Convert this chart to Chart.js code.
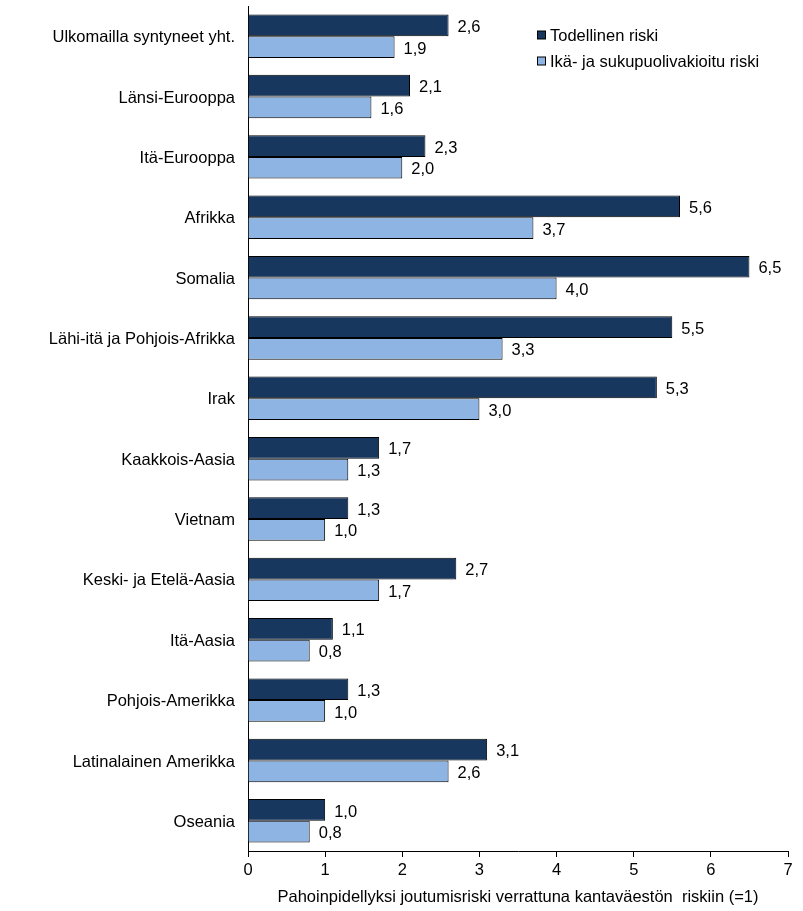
<!DOCTYPE html>
<html><head><meta charset="utf-8">
<script src="https://cdn.jsdelivr.net/npm/chart.js@4.4.1/dist/chart.umd.min.js"></script>
<style>html,body{margin:0;padding:0;background:#fff}#wrap{width:803px;height:911px}</style>
</head><body><div id="wrap"><canvas id="c" width="803" height="911"></canvas></div>
<script>
const categories = ["Ulkomailla syntyneet yht.","Länsi-Eurooppa","Itä-Eurooppa","Afrikka","Somalia","Lähi-itä ja Pohjois-Afrikka","Irak","Kaakkois-Aasia","Vietnam","Keski- ja Etelä-Aasia","Itä-Aasia","Pohjois-Amerikka","Latinalainen Amerikka","Oseania"];
const actualRisk = [2.6,2.1,2.3,5.6,6.5,5.5,5.3,1.7,1.3,2.7,1.1,1.3,3.1,1.0];
const adjustedRisk = [1.9,1.6,2.0,3.7,4.0,3.3,3.0,1.3,1.0,1.7,0.8,1.0,2.6,0.8];
const seriesNames = ["Todellinen riski","Ikä- ja sukupuolivakioitu riski"];
const xTicks = [0,1,2,3,4,5,6,7];
const axisTitle = "Pahoinpidellyksi joutumisriski verrattuna kantaväestön  riskiin (=1)";
const FONT = "'Liberation Sans', Arial, sans-serif";
const FS = 16.5;

const labelsPlugin = {
  id:'vals',
  afterDatasetsDraw(chart){
    const ctx = chart.ctx;
    ctx.save();
    ctx.font = FS + "px " + FONT;
    ctx.fillStyle = "#000";
    ctx.textBaseline = "middle";
    ctx.textAlign = "left";
    chart.data.datasets.forEach((ds,i)=>{
      chart.getDatasetMeta(i).data.forEach((bar,j)=>{
        ctx.fillText(ds.data[j].toFixed(1).replace('.',','), bar.x + 9, bar.y + 2);
      });
    });
    ctx.restore();
  }
};
const legendPlugin = {
  id:'leg',
  afterDraw(chart){
    const ctx = chart.ctx;
    ctx.save();
    ctx.font = FS + "px " + FONT;
    ctx.textBaseline = "middle";
    const ys = [35, 61];
    chart.data.datasets.forEach((ds,i)=>{
      ctx.fillStyle = ds.backgroundColor;
      ctx.fillRect(537.5, ys[i]-4, 8, 8);
      ctx.strokeStyle = "#000"; ctx.lineWidth = 1;
      ctx.strokeRect(537.5, ys[i]-4, 8, 8);
      ctx.fillStyle = "#000";
      ctx.fillText(ds.label, 550, ys[i] + 1);
    });
    ctx.restore();
  }
};

new Chart(document.getElementById('c'), {
  type:'bar',
  data:{
    labels: categories,
    datasets:[
      {label:seriesNames[0], data:actualRisk, backgroundColor:"#17375E", borderColor:"#000", borderWidth:1, borderSkipped:'start', categoryPercentage:0.72, barPercentage:1.0},
      {label:seriesNames[1], data:adjustedRisk, backgroundColor:"#8DB4E2", borderColor:"#000", borderWidth:1, borderSkipped:'start', categoryPercentage:0.72, barPercentage:1.0}
    ]
  },
  options:{
    indexAxis:'y',
    responsive:false,
    animation:false,
    layout:{padding:{top:6,right:15,left:0,bottom:0}},
    plugins:{legend:{display:false}, tooltip:{enabled:false}},
    scales:{
      x:{
        min:0, max:7,
        afterBuildTicks(s){ s.ticks = xTicks.map(v=>({value:v})); },
        afterFit(s){ s.height = 60; s.paddingLeft = 0; s.paddingRight = 0; },
        grid:{drawOnChartArea:false, color:"#000", tickLength:6},
        border:{color:"#000", width:1},
        ticks:{color:"#000", font:{family:FONT,size:FS}, padding:4, callback:v=>String(v)},
        title:{display:true, text:axisTitle, color:"#000", font:{family:FONT,size:FS}, padding:{top:3}}
      },
      y:{
        afterFit(s){ s.width = 248; s.paddingTop = 0; s.paddingBottom = 0; },
        grid:{display:false},
        border:{color:"#000", width:1},
        ticks:{color:"#000", font:{family:FONT,size:FS}, padding:5, labelOffset:1.5}
      }
    }
  },
  plugins:[labelsPlugin, legendPlugin]
});
</script></body></html>
